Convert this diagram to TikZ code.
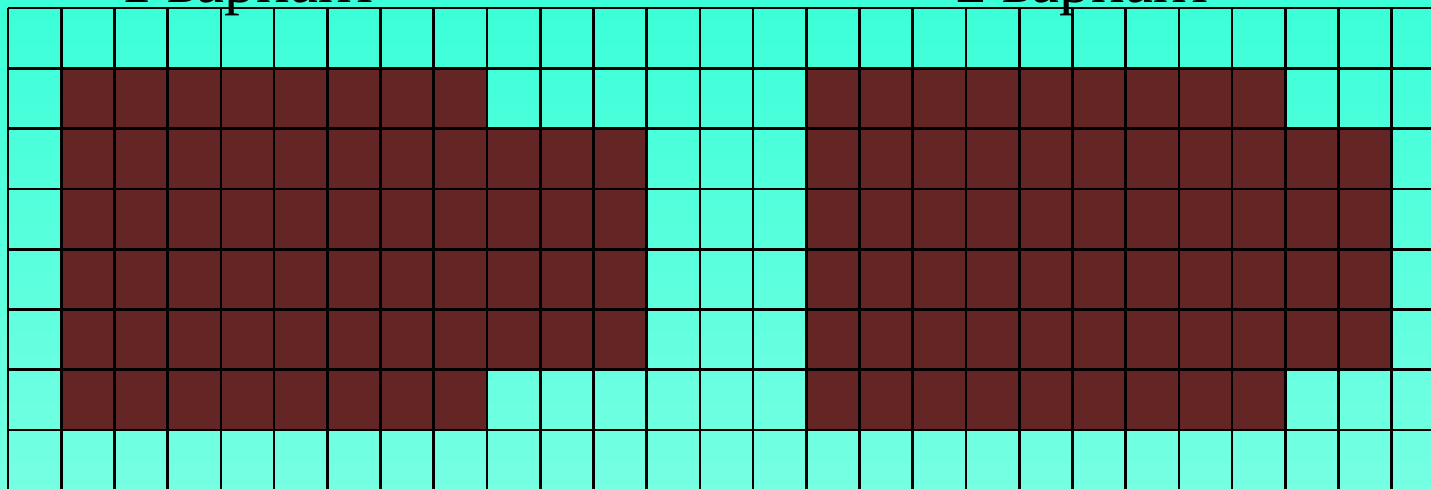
\documentclass[tikz,border=0pt]{standalone}
\usepackage{fontspec}
\setmainfont{Liberation Serif}
\usetikzlibrary{calc}

\definecolor{seatop}{RGB}{58,255,216}
\definecolor{seabot}{RGB}{118,255,226}
\definecolor{wallred}{RGB}{100,37,37}

\begin{document}
\begin{tikzpicture}[
    x=1pt, y=-1pt,
    wall/.style={fill=wallred},
    gridline/.style={draw=black, line width=2.7pt},
    ttl/.style={font=\fontsize{63}{63}\selectfont, anchor=base, inner sep=0pt},
]
\def\cw{53.22}
\def\ch{60.29}
\useasboundingbox (0,0) rectangle (1431,489);
\clip (0,0) rectangle (1431,489);

% === Background ===
\shade[top color=seatop, bottom color=seabot] (0,0) rectangle (1431,489);

% === Variant 1 ===
\fill[wall] ({8+\cw}, {8+\ch}) rectangle ({8+9*\cw}, {8+7*\ch});
\fill[wall] ({8+9*\cw}, {8+2*\ch}) rectangle ({8+12*\cw}, {8+6*\ch});

% === Variant 2 ===
\fill[wall] ({8+15*\cw}, {8+\ch}) rectangle ({8+24*\cw}, {8+7*\ch});
\fill[wall] ({8+24*\cw}, {8+2*\ch}) rectangle ({8+26*\cw}, {8+6*\ch});

% Grid
\foreach \i in {0,...,27}
    \draw[gridline] ({8+\i*\cw}, 8) -- ({8+\i*\cw}, 500);
\foreach \j in {0,...,8}
    \draw[gridline] (8, {8+\j*\ch}) -- (1440, {8+\j*\ch});

% Titles
\node[ttl] (v1title) at (250, 3) {1 вариант};
\node[ttl] (v2title) at (1085, 3) {2 вариант};
\end{tikzpicture}
\end{document}
